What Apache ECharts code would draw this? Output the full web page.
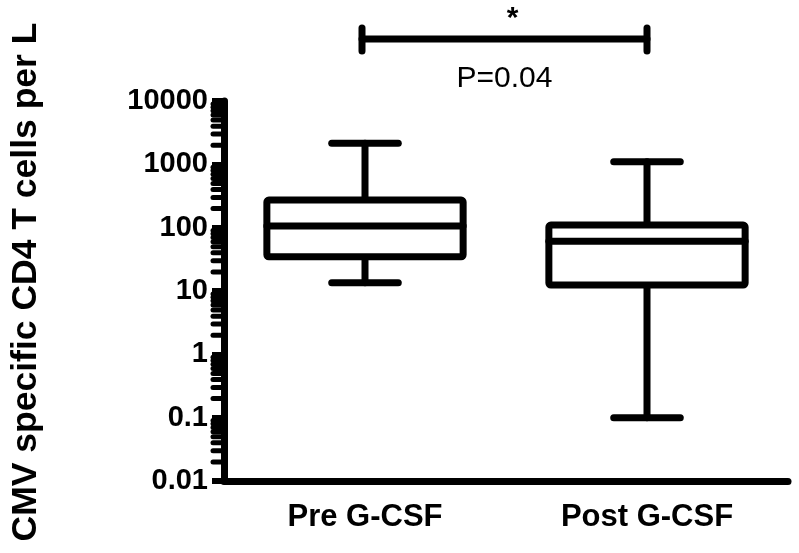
<!DOCTYPE html>
<html>
<head>
<meta charset="utf-8">
<script src="https://cdn.jsdelivr.net/npm/echarts@6/dist/echarts.min.js"></script>
<style>
  html, body { margin: 0; padding: 0; background: #fff; }
  #main { width: 799px; height: 553px; }
</style>
</head>
<body>
<div id="main"></div>
<script>
// 数据
var categories = ['Pre G-CSF', 'Post G-CSF'];
// [min, Q1, median, Q3, max]
var preBox = [13.5, 34.7, 106, 273, 2150];
var postBox = [0.1, 12.4, 61, 110, 1100];
var yTickLabels = ['0.01', '0.1', '1', '10', '100', '1000', '10000'];
var pValueText = 'P=0.04';
var starText = '*';
var bracketLevel = 95000;   // 显著性横线所在高度（轴上方）

// 次刻度 2..9 x 10^k
var minorTicks = [];
for (var k = -2; k < 4; k++) {
  for (var m = 2; m <= 9; m++) {
    minorTicks.push([0, m * Math.pow(10, k)]);
  }
}

var boxData = [
  [0].concat(preBox),
  [1].concat(postBox)
];

var myChart = echarts.init(document.getElementById('main'));

var boldFont = '"Liberation Sans", Arial, sans-serif';

function renderBox(params, api) {
  var x = api.value(0);
  var c0 = api.coord([0, 1])[0];
  var c1 = api.coord([1, 1])[0];
  var band = c1 - c0;
  var cx = api.coord([x, 1])[0];
  var yMin = api.coord([x, api.value(1)])[1];
  var yQ1 = api.coord([x, api.value(2)])[1];
  var yMed = api.coord([x, api.value(3)])[1];
  var yQ3 = api.coord([x, api.value(4)])[1];
  var yMax = api.coord([x, api.value(5)])[1];
  var hw = band * 0.348;
  var cw = band * 0.118;
  var ls = { stroke: '#000', lineWidth: 7, lineCap: 'round', fill: null };
  return {
    type: 'group',
    children: [
      { type: 'line', shape: { x1: cx, y1: yMax, x2: cx, y2: yQ3 }, style: ls },
      { type: 'line', shape: { x1: cx, y1: yMin, x2: cx, y2: yQ1 }, style: ls },
      { type: 'line', shape: { x1: cx - cw, y1: yMax, x2: cx + cw, y2: yMax }, style: ls },
      { type: 'line', shape: { x1: cx - cw, y1: yMin, x2: cx + cw, y2: yMin }, style: ls },
      { type: 'rect', shape: { x: cx - hw, y: yQ3, width: 2 * hw, height: yQ1 - yQ3, r: 2 },
        style: { fill: '#fff', stroke: '#000', lineWidth: 7, lineJoin: 'round' } },
      { type: 'line', shape: { x1: cx - hw, y1: yMed, x2: cx + hw, y2: yMed }, style: ls }
    ]
  };
}

function renderMinor(params, api) {
  var c0 = api.coord([0, 1])[0];
  var c1 = api.coord([1, 1])[0];
  var x0 = c0 - (c1 - c0) / 2;
  var y = api.coord([0, api.value(1)])[1];
  return {
    type: 'line',
    shape: { x1: x0 - 11, y1: y, x2: x0, y2: y },
    style: { stroke: '#000', lineWidth: 5, lineCap: 'round' }
  };
}

function renderBracket(params, api) {
  var p0 = api.coord([api.value(0), api.value(2)]);
  var p1 = api.coord([api.value(1), api.value(2)]);
  var y = p0[1];
  var xl = p0[0] - 3, xr = p1[0];
  var ls = { stroke: '#000', lineWidth: 7, lineCap: 'round' };
  var mid = (xl + xr) / 2;
  return {
    type: 'group',
    children: [
      { type: 'line', shape: { x1: xl, y1: y, x2: xr, y2: y }, style: ls },
      { type: 'line', shape: { x1: xl, y1: y - 11, x2: xl, y2: y + 12 }, style: ls },
      { type: 'line', shape: { x1: xr, y1: y - 11, x2: xr, y2: y + 12 }, style: ls },
      { type: 'text', x: mid + 8, y: y - 20,
        style: { text: starText, fill: '#000', font: 'bold 30px ' + boldFont, align: 'center', verticalAlign: 'middle' } },
      { type: 'text', x: mid, y: y + 40,
        style: { text: pValueText, fill: '#000', font: '30px ' + boldFont, align: 'center', verticalAlign: 'middle' } }
    ]
  };
}

var option = {
  backgroundColor: '#fff',
  animation: false,
  grid: { left: 223, right: 11, top: 101, bottom: 72, containLabel: false },
  xAxis: {
    type: 'category',
    data: categories,
    boundaryGap: true,
    axisLine: { lineStyle: { color: '#000', width: 7 } },
    axisTick: { alignWithLabel: true, length: 13, lineStyle: { color: '#000', width: 6 } },
    axisLabel: { color: '#000', fontFamily: boldFont, fontWeight: 'bold', fontSize: 31, margin: 21 },
    splitLine: { show: false }
  },
  yAxis: {
    type: 'log',
    logBase: 10,
    min: 0.01,
    max: 10000,
    name: 'CMV specific CD4 T cells per L',
    nameLocation: 'middle',
    nameGap: 180,
    nameTextStyle: { color: '#000', fontFamily: boldFont, fontWeight: 'bold', fontSize: 35.5, padding: [0, 0, 0, 18] },
    axisLine: { show: true, lineStyle: { color: '#000', width: 7 } },
    axisTick: { show: true, length: 12, lineStyle: { color: '#000', width: 6 } },
    axisLabel: {
      color: '#000', fontFamily: boldFont, fontWeight: 'bold', fontSize: 29, margin: 16,
      formatter: function (v) {
        var i = Math.round(Math.log(v) / Math.LN10) + 2;
        return yTickLabels[i] !== undefined ? yTickLabels[i] : '';
      }
    },
    splitLine: { show: false }
  },
  series: [
    {
      type: 'custom',
      renderItem: renderMinor,
      data: minorTicks,
      clip: false,
      silent: true,
      z: 1
    },
    {
      type: 'custom',
      renderItem: renderBox,
      data: boxData,
      encode: { x: 0, y: [1, 2, 3, 4, 5] },
      z: 3
    },
    {
      type: 'custom',
      renderItem: renderBracket,
      data: [[0, 1, bracketLevel]],
      clip: false,
      encode: { x: [0, 1], y: 2 },
      z: 3
    }
  ]
};

myChart.setOption(option);
</script>
</body>
</html>
